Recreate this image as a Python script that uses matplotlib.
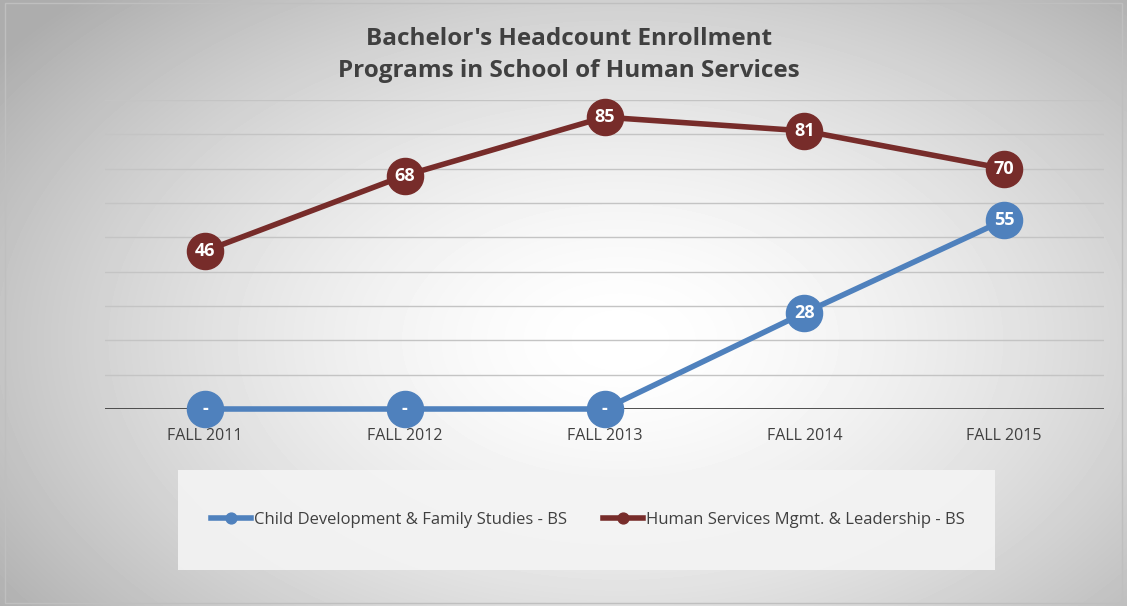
import numpy as np
import matplotlib.pyplot as plt
from matplotlib.patches import Rectangle

plt.rcParams['font.family'] = ['Open Sans', 'DejaVu Sans']

years = ['FALL 2011', 'FALL 2012', 'FALL 2013', 'FALL 2014', 'FALL 2015']
child_dev = [0, 0, 0, 28, 55]
human_serv = [46, 68, 85, 81, 70]
names = ['Child Development & Family Studies - BS', 'Human Services Mgmt. & Leadership - BS']
blue = '#4f81bd'
red = '#772c2a'

fig = plt.figure(figsize=(11.27, 6.06), dpi=100)

# radial gradient background
bg = fig.add_axes([0, 0, 1, 1], zorder=-10)
yy, xx = np.mgrid[0:606, 0:1127]
r = np.sqrt(((xx - 620) / 640.0) ** 2 + ((yy - 340) / 400.0) ** 2)
shade = 1.0 - 0.24 * np.clip(r, 0, 1.2) ** 1.6
bg.imshow(shade, cmap='gray', vmin=0, vmax=1, aspect='auto', extent=[0, 1, 0, 1])
bg.add_patch(Rectangle((5 / 1127, 3 / 606), 1117 / 1127, 600 / 606, fill=False,
                       edgecolor='#bfbfbf', lw=1))
bg.set_xlim(0, 1)
bg.set_ylim(0, 1)
bg.axis('off')

ax = fig.add_axes([105 / 1127, 1 - 409 / 606, 999 / 1127, 309 / 606])
ax.patch.set_alpha(0)
x = np.arange(len(years))

ax.plot(x, child_dev, color=blue, lw=4, marker='o', ms=26, label=names[0],
        zorder=3, clip_on=False)
ax.plot(x, human_serv, color=red, lw=4, marker='o', ms=26, label=names[1],
        zorder=3, clip_on=False)

for xi, v in zip(x, child_dev):
    ax.text(xi, v, '-' if v == 0 else str(v), color='white', fontsize=13,
            fontweight='bold', ha='center', va='center', zorder=4)
for xi, v in zip(x, human_serv):
    ax.text(xi, v, str(v), color='white', fontsize=13,
            fontweight='bold', ha='center', va='center', zorder=4)

ax.set_xlim(-0.5, len(years) - 0.5)
ax.set_ylim(0, 90)
ax.set_yticks(np.arange(0, 91, 10))
ax.set_yticklabels([])
ax.set_xticks(x)
ax.set_xticklabels(years, fontsize=11.5, color='#404040')
ax.tick_params(length=0, pad=14)
ax.grid(axis='y', color='#c4c4c4', lw=1)
ax.axhline(0, color='#404040', lw=2, zorder=2)
for s in ax.spines.values():
    s.set_visible(False)
ax.set_axisbelow(True)

fig.text(569 / 1127, 1 - 55 / 606, "Bachelor's Headcount Enrollment\nPrograms in School of Human Services",
         ha='center', va='center', fontsize=17.5, fontweight='bold', color='#404040',
         linespacing=1.45)

# legend box
fig.patches.append(Rectangle((178 / 1127, 1 - 570 / 606), 817 / 1127, 100 / 606,
                             transform=fig.transFigure, facecolor='#f4f4f4',
                             edgecolor='none', alpha=0.9, zorder=0))
leg = fig.legend(loc='center', bbox_to_anchor=(588 / 1127, 1 - 520 / 606), ncol=2,
                 frameon=False, fontsize=12, handlelength=2.4, handletextpad=0.15,
                 columnspacing=2.2, markerscale=0.3)
for t in leg.get_texts():
    t.set_color('#404040')

fig.savefig('out.png', dpi=100)
